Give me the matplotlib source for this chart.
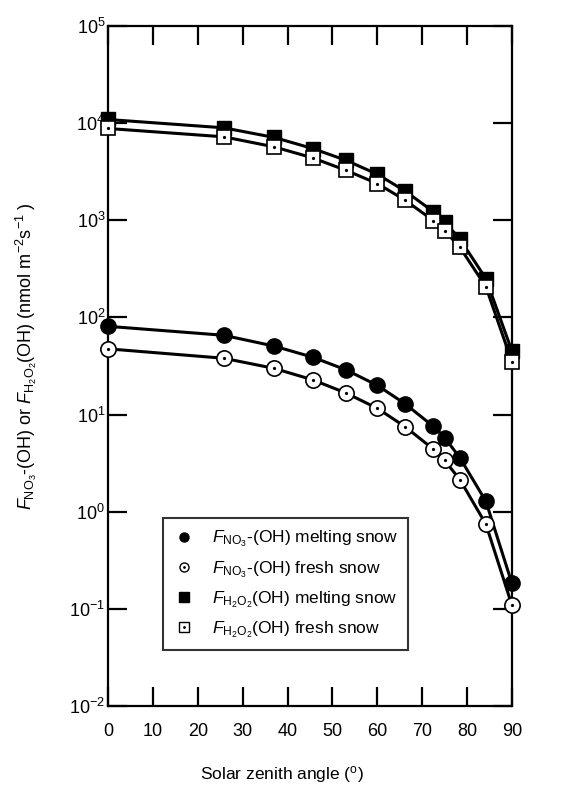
import matplotlib
matplotlib.use("Agg")
import matplotlib.pyplot as plt
from matplotlib.lines import Line2D

plt.rcParams['font.family'] = ['Liberation Sans', 'DejaVu Sans']
plt.rcParams['mathtext.fontset'] = 'custom'
plt.rcParams['mathtext.rm'] = 'Liberation Sans'
plt.rcParams['mathtext.it'] = 'Liberation Sans:italic'
plt.rcParams['mathtext.bf'] = 'Liberation Sans:bold'

# solar zenith angle (deg)
sza = [0, 25.8, 37, 45.6, 53, 60, 66.2, 72.5, 75, 78.4, 84.2, 90]
# fluxes (nmol m-2 s-1)
no3_melt = [81, 65.5, 50.7, 39, 28.9, 20, 12.9, 7.55, 5.8, 3.59, 1.28, 0.183]
no3_fresh = [47.5, 38, 29.9, 22.8, 16.7, 11.6, 7.5, 4.4, 3.37, 2.14, 0.745, 0.109]
h2o2_melt = [10900, 8950, 7130, 5480, 4150, 2980, 2000, 1225, 965, 641, 251, 45]
h2o2_fresh = [8810, 7230, 5700, 4390, 3270, 2390, 1610, 993, 783, 527, 207, 34.9]

fig = plt.figure(figsize=(5.82, 7.85), dpi=100)
ax = fig.add_axes([0.1856, 0.1006, 0.694, 0.8663])

# lines first, markers on top
for y in [h2o2_melt, h2o2_fresh, no3_melt, no3_fresh]:
    ax.plot(sza, y, color='black', lw=2.2, zorder=2, clip_on=False)

ax.plot(sza, h2o2_melt, ls='none', marker='s', ms=10.5, mfc='black', mec='black', zorder=3, clip_on=False)
ax.plot(sza, h2o2_fresh, ls='none', marker='s', ms=10.5, mfc='white', mec='black', mew=1.2, zorder=4, clip_on=False)
ax.plot(sza, h2o2_fresh, ls='none', marker='o', ms=1.3, mfc='black', mec='black', zorder=5, clip_on=False)
ax.plot(sza, no3_melt, ls='none', marker='o', ms=11, mfc='black', mec='black', zorder=3, clip_on=False)
ax.plot(sza, no3_fresh, ls='none', marker='o', ms=11, mfc='white', mec='black', mew=1.2, zorder=4, clip_on=False)
ax.plot(sza, no3_fresh, ls='none', marker='o', ms=1.3, mfc='black', mec='black', zorder=5, clip_on=False)

ax.set_yscale('log')
ax.set_xlim(0, 90)
ax.set_ylim(1e-2, 1e5)
ax.set_xticks(range(0, 91, 10))
ax.minorticks_off()
ax.tick_params(which='major', direction='in', length=14, width=1.6,
               top=True, right=True, labelsize=13)
ax.tick_params(axis='x', pad=12)
ax.tick_params(axis='y', pad=2)
for s in ax.spines.values():
    s.set_linewidth(1.6)

ax.set_xlabel('Solar zenith angle ($^{\\mathrm{o}}$)', fontsize=12.5)
ax.xaxis.set_label_coords(0.43, -0.085)
ax.set_ylabel('$F_{\\mathrm{NO_3}}$-(OH) or $F_{\\mathrm{H_2O_2}}$(OH) (nmol m$^{-2}$s$^{-1}$ )',
              fontsize=13)
ax.yaxis.set_label_coords(-0.17, 0.515)

# legend proxies
h1 = Line2D([], [], ls='none', marker='o', ms=6.5, mfc='black', mec='black')
h2 = (Line2D([], [], ls='none', marker='o', ms=6.5, mfc='white', mec='black', mew=1),
      Line2D([], [], ls='none', marker='o', ms=1, mfc='black', mec='black'))
h3 = Line2D([], [], ls='none', marker='s', ms=6.5, mfc='black', mec='black')
h4 = (Line2D([], [], ls='none', marker='s', ms=6.5, mfc='white', mec='black', mew=1),
      Line2D([], [], ls='none', marker='o', ms=1, mfc='black', mec='black'))
labels = ['$F_{\\mathrm{NO_3}}$-(OH) melting snow',
          '$F_{\\mathrm{NO_3}}$-(OH) fresh snow',
          '$F_{\\mathrm{H_2O_2}}$(OH) melting snow',
          '$F_{\\mathrm{H_2O_2}}$(OH) fresh snow']
leg = ax.legend([h1, h2, h3, h4], labels, loc='lower left', bbox_to_anchor=(0.136, 0.082),
                borderaxespad=0, fontsize=12.5, frameon=True, fancybox=False,
                handlelength=1.2, handletextpad=1.0, labelspacing=0.55, borderpad=0.6)
leg.get_frame().set_edgecolor('black')
leg.get_frame().set_linewidth(1.5)

fig.savefig('out.png', dpi=100)
